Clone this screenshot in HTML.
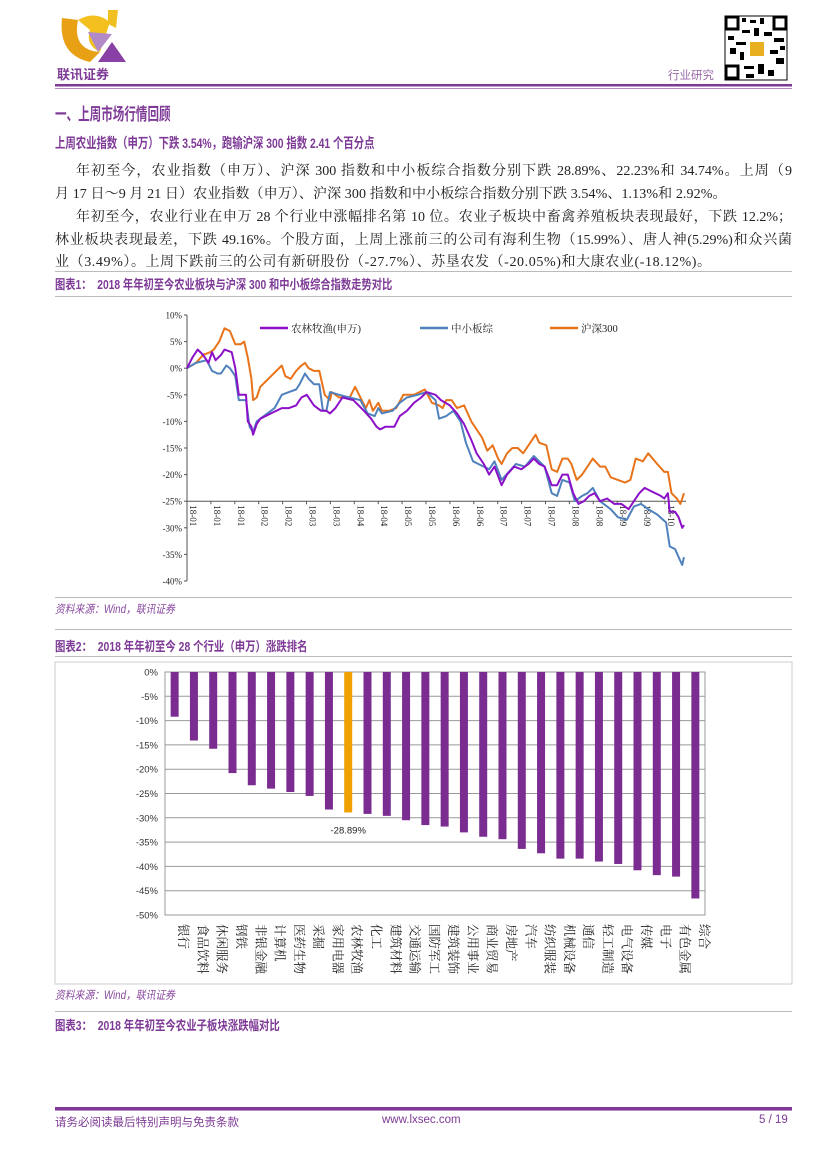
<!DOCTYPE html>
<html><head><meta charset="utf-8"><style>
body{margin:0;background:#fff;}
#page{position:relative;width:827px;height:1170px;overflow:hidden;font-family:"Liberation Serif","Noto Serif CJK SC",serif;color:#222;}
.abs{position:absolute;white-space:nowrap;}
.p{font-size:14px;left:55px;}
.j{text-align:justify;text-align-last:justify;white-space:normal;}
.h{color:#7e3a96;font-family:"Liberation Sans","Noto Sans CJK SC",sans-serif;font-weight:bold;transform-origin:0 0;}
.src{color:#8a4aa0;font-style:italic;font-size:11.5px;font-family:"Liberation Sans","Noto Sans CJK SC",sans-serif;left:55px;transform:scaleX(0.85);transform-origin:0 0;}
.rule{position:absolute;left:55px;width:737px;height:1px;background:#bbb;}
</style></head><body>
<div id="page">
<svg class="abs" style="left:0;top:0" width="827" height="100">
 <g>
  <path d="M62 18 Q58 55 90 62 L100 52 Q72 50 78 20 Z" fill="#e8a015"/>
  <path d="M78 20 Q95 10 110 22 L100 52 Q85 45 90 30 Z" fill="#f3c020"/>
  <path d="M88 32 L112 34 L98 52 Z" fill="#b28ac8"/>
  <path d="M108 10 L118 10 L116 28 L108 24 Z" fill="#f0c020"/>
  <path d="M112 42 L126 62 L98 62 Z" fill="#8a3fa6"/>
  <text x="57" y="79" font-size="13" font-weight="bold" fill="#7e3a96" font-family="Liberation Sans,Noto Sans CJK SC,sans-serif">联讯证券</text>
 </g>
 <g>
  <rect x="725" y="16" width="62" height="64" fill="#fff" stroke="#000" stroke-width="1"/>
  <rect x="726" y="17" width="12" height="12" fill="none" stroke="#000" stroke-width="3"/>
  <rect x="774" y="17" width="12" height="12" fill="none" stroke="#000" stroke-width="3"/>
  <rect x="726" y="66" width="12" height="12" fill="none" stroke="#000" stroke-width="3"/>
  <path d="M742 18h4v4h-4zM750 20h6v3h-6zM760 18h4v6h-4zM742 30h8v3h-8zM754 28h5v8h-5zM764 32h8v4h-8zM728 36h6v4h-6zM736 42h10v3h-10zM774 38h10v4h-10zM740 52h4v8h-4zM770 50h8v4h-8zM776 58h8v6h-8zM744 66h10v3h-10zM758 64h6v10h-6zM768 70h6v6h-6zM730 48h6v6h-6zM780 46h5v4h-5zM746 74h8v4h-8z" fill="#000"/>
  <rect x="750" y="42" width="14" height="14" fill="#e8b020"/>
 </g>
 <text x="668" y="79" font-size="11.5" fill="#9a6aa8" font-family="Liberation Sans,Noto Sans CJK SC,sans-serif">行业研究</text>
 <rect x="55" y="84" width="737" height="2.5" fill="#7e3a96"/>
 <rect x="55" y="88" width="737" height="1" fill="#b48cc4"/>
</svg>

<div class="abs h" style="left:55px;top:100px;font-size:17px;transform:scaleX(0.68)">一、上周市场行情回顾</div>
<div class="abs h" style="left:55px;top:133px;font-size:14px;transform:scaleX(0.74)">上周农业指数（申万）下跌 3.54%，跑输沪深 300 指数 2.41 个百分点</div>
<div class="abs p j" style="top:160px;left:76px;width:716px">年初至今，农业指数（申万）、沪深 300 指数和中小板综合指数分别下跌 28.89%、22.23%和 34.74%。上周（9</div>
<div class="abs p" style="top:183px;letter-spacing:0.1px">月 17 日～9 月 21 日）农业指数（申万）、沪深 300 指数和中小板综合指数分别下跌 3.54%、1.13%和 2.92%。</div>
<div class="abs p j" style="top:206px;left:76px;width:716px">年初至今，农业行业在申万 28 个行业中涨幅排名第 10 位。农业子板块中畜禽养殖板块表现最好，下跌 12.2%；</div>
<div class="abs p j" style="top:229px;width:737px">林业板块表现最差，下跌 49.16%。个股方面，上周上涨前三的公司有海利生物（15.99%）、唐人神(5.29%)和众兴菌</div>
<div class="abs p" style="top:251px;letter-spacing:0.6px">业（3.49%）。上周下跌前三的公司有新研股份（-27.7%）、苏垦农发（-20.05%)和大康农业(-18.12%)。</div>

<div class="rule" style="top:271px"></div>
<div class="abs h" style="left:55px;top:274px;font-size:13px;transform:scaleX(0.79)">图表1：&nbsp; 2018 年年初至今农业板块与沪深 300 和中小板综合指数走势对比</div>
<div class="rule" style="top:296px"></div>
<svg class="abs" style="left:0;top:0" width="827" height="600" id="line-chart"></svg>
<div class="rule" style="top:597px"></div>
<div class="abs src" style="top:601px">资料来源：Wind，联讯证券</div>
<div class="rule" style="top:629px"></div>
<div class="abs h" style="left:55px;top:636px;font-size:13px;transform:scaleX(0.8)">图表2：&nbsp; 2018 年年初至今 28 个行业（申万）涨跌排名</div>
<div class="rule" style="top:656px"></div>
<svg class="abs" style="left:0;top:0" width="827" height="990" id="bar-chart"></svg>
<div class="abs src" style="top:987px">资料来源：Wind，联讯证券</div>
<div class="rule" style="top:1011px"></div>
<div class="abs h" style="left:55px;top:1015px;font-size:13px;transform:scaleX(0.8)">图表3：&nbsp; 2018 年年初至今农业子板块涨跌幅对比</div>

<div class="abs" style="left:55px;top:1107px;width:737px;height:2.5px;background:#7e3a96"></div>
<div class="abs" style="left:55px;top:1110px;width:737px;height:1px;background:#b48cc4"></div>
<div class="abs" style="left:55px;top:1114px;font-size:11.5px;color:#7e3a96;font-family:'Liberation Sans','Noto Sans CJK SC',sans-serif">请务必阅读最后特别声明与免责条款</div>
<div class="abs" style="left:382px;top:1114px;font-size:11.5px;color:#7e3a96;font-family:'Liberation Sans',sans-serif">www.lxsec.com</div>
<div class="abs" style="left:759px;top:1114px;font-size:11.5px;color:#7e3a96;font-family:'Liberation Sans',sans-serif">5 / 19</div>
</div>

<script>
const NS='http://www.w3.org/2000/svg';
function mk(parent,tag,attrs,txt){const e=document.createElementNS(NS,tag);for(const k in attrs)e.setAttribute(k,attrs[k]);if(txt!=null)e.textContent=txt;parent.appendChild(e);return e;}

// ---------- Line chart data ----------
const lineYTicks=[10,5,0,-5,-10,-15,-20,-25,-30,-35,-40];
const lineXLabels=['18-01','18-01','18-01','18-02','18-02','18-03','18-03','18-04','18-04','18-05','18-05','18-06','18-06','18-07','18-07','18-07','18-08','18-08','18-09','18-09','18-10'];
const seriesNames=['农林牧渔(申万)','中小板综','沪深300'];
const hsT=[105,130,150,170,180,195,210,225,240,255,265,275,285,290,300,310,340,370,380,395,410,425,435,445,460,475,490,505,510,530,560,575,590,605,615,625,640,650,670,690,710,740,770,790,810,820,830,845,860,880,900,915,930,945,960,975,985,1000,1015,1030,1045,1060,1080,1090,1110,1125,1140,1155,1170,1180,1195,1210,1230,1240,1260,1275,1290,1310,1330,1345,1360,1380,1395,1420,1440,1450,1460,1475,1485,1495];
const hsV=[0,1,2.5,3,3.5,5,7.5,7,4.5,4.5,5,2,-2,-6,-5.5,-3.5,-1.5,0.5,-1.5,-2,-0.5,0.5,1,0,-0.5,-0.5,-5,-6,-4.5,-5.5,-5.5,-3.5,-5.5,-7.5,-6,-8,-6.5,-8,-8,-7.5,-5,-5,-4,-6.5,-7,-7.5,-6,-6,-7.5,-7,-10,-11.5,-13,-15.5,-14.5,-17,-18,-16,-15,-15,-16,-14.5,-12.5,-14,-14.5,-19,-19.5,-17,-17,-18,-21,-20,-18,-17,-18.5,-18.5,-20.5,-21,-21.5,-21,-17,-17.5,-16,-18,-19.5,-19.5,-23.5,-24.5,-25.5,-23.5];
const agT=[105,120,135,150,165,175,185,200,210,230,240,250,270,275,285,290,300,310,340,370,390,410,425,440,460,480,495,505,520,540,570,600,620,635,645,660,685,700,720,740,760,775,800,815,840,860,880,900,915,935,950,965,985,1000,1020,1040,1060,1075,1090,1105,1125,1140,1155,1170,1185,1200,1215,1230,1245,1260,1280,1300,1320,1340,1355,1370,1385,1400,1430,1440,1450,1455,1470,1480,1490,1495];
const agV=[0,2,3.5,2.5,1,3,1.5,2.5,3.5,3,0,-5,-5,-10,-11,-12.5,-10.5,-9.5,-8.5,-7.5,-7.5,-7,-5.5,-5,-7,-8,-8,-8.5,-7.5,-5.5,-6,-8,-9.5,-11,-11.5,-11,-11,-9,-8,-6.5,-5.5,-4.5,-5,-6,-7,-8.5,-10.5,-13.5,-16,-18,-20,-18.5,-22,-20,-18.5,-19,-18,-17,-18,-18.5,-22,-22,-20,-20,-23.5,-25.5,-25,-24,-23.5,-25,-24.5,-25.5,-25.5,-26.5,-25,-23.5,-22.5,-23,-24,-24.5,-23.5,-27,-27,-28,-30,-29.5];
const smT=[105,130,160,175,190,200,215,225,240,250,270,280,290,300,320,350,370,390,410,420,435,445,460,475,485,495,505,530,560,590,610,630,640,650,680,700,720,750,775,800,810,830,850,870,885,905,920,935,950,965,985,1005,1025,1050,1075,1090,1105,1125,1140,1155,1175,1190,1210,1225,1240,1260,1290,1310,1335,1355,1375,1395,1420,1445,1455,1470,1480,1490,1495];
const smV=[0,1,1.5,-0.5,-1,-1,0.5,0,-1.5,-6,-6,-11,-12,-10,-9,-7.5,-5,-4.5,-4,-3,-1,-2,-3,-3,-8,-8,-4.5,-5,-5.5,-6,-8.5,-9,-7.5,-8.5,-8,-6.5,-5.5,-5,-4.5,-6,-9.5,-9,-8,-10,-14,-17.5,-18,-18.5,-19,-17.5,-21,-19.5,-18,-18.5,-16.5,-17.5,-18.5,-23.5,-24,-21,-21.5,-25,-24,-23.5,-22.5,-25,-26.5,-28,-28.5,-26,-25.5,-26.5,-27.5,-29,-33.5,-34,-35.5,-37,-35.5];

const LX0=187,LX1=684,T0=105,T1=1495;
function lx(t){return LX0+(t-T0)/(T1-T0)*(LX1-LX0);}
function ly(v){return 368.2-v*5.32;}
(function(){
 const svg=document.getElementById('line-chart');
 const ff='Liberation Serif,Noto Serif CJK SC,serif';
 const ya=mk(svg,'line',{x1:LX0,y1:ly(10),x2:LX0,y2:ly(-40),stroke:'#555','stroke-width':1});
 
 
 lineYTicks.forEach(v=>{
  mk(svg,'line',{x1:LX0-3,y1:ly(v),x2:LX0,y2:ly(v),stroke:'#555'});
  const t=mk(svg,'text',{x:LX0-5,y:ly(v)+3.5,'font-size':9,'text-anchor':'end',fill:'#222','font-family':ff},v+'%');
  
  
 });
 const xa=mk(svg,'line',{x1:LX0,y1:ly(-25),x2:LX1+2,y2:ly(-25),stroke:'#555','stroke-width':1});
 
 
 const step=(665-LX0)/(lineXLabels.length-1);
 lineXLabels.forEach((lab,i)=>{
  const x=LX0+i*step;
  mk(svg,'line',{x1:x,y1:ly(-25),x2:x,y2:ly(-25)+3,stroke:'#555'});
  const t=mk(svg,'text',{x:0,y:0,'font-size':9,fill:'#222','font-family':ff,transform:`translate(${x+3},${ly(-25)+4}) rotate(90)`},lab);
  
  
 });
 const cols=['#8b10c8','#4f81bd','#e8731a'];
 const data=[[agT,agV],[smT,smV],[hsT,hsV]];
 const order=[2,1,0];
 const names=['series-agriculture','series-smallcap','series-csi300'];
 order.forEach(k=>{
  const [T,V]=data[k];
  const d=T.map((t,i)=>(i?'L':'M')+lx(t).toFixed(1)+' '+ly(V[i]).toFixed(1)).join(' ');
  const p=mk(svg,'path',{d:d,fill:'none',stroke:cols[k],'stroke-width':2,'stroke-linejoin':'round'});
  
  
 });
 const lxs=[260,420,550];
 seriesNames.forEach((n,k)=>{
  const g=mk(svg,'g',{});
  
  
  mk(g,'line',{x1:lxs[k],y1:328,x2:lxs[k]+28,y2:328,stroke:cols[k],'stroke-width':2.5});
  mk(g,'text',{x:lxs[k]+31,y:332,'font-size':10.5,fill:'#222','font-family':ff},n);
 });
})();

// ---------- Bar chart data ----------
const barCats=['银行','食品饮料','休闲服务','钢铁','非银金融','计算机','医药生物','采掘','家用电器','农林牧渔','化工','建筑材料','交通运输','国防军工','建筑装饰','公用事业','商业贸易','房地产','汽车','纺织服装','机械设备','通信','轻工制造','电气设备','传媒','电子','有色金属','综合'];
const barVals=[-9.2,-14.1,-15.8,-20.8,-23.3,-24.0,-24.7,-25.5,-28.3,-28.89,-29.2,-29.6,-30.5,-31.5,-31.8,-33.0,-33.9,-34.4,-36.4,-37.3,-38.4,-38.4,-39.0,-39.5,-40.8,-41.8,-42.1,-46.6];
const barYTicks=[0,-5,-10,-15,-20,-25,-30,-35,-40,-45,-50];
const highlight='农林牧渔';
const BX0=165,BX1=705;
function by(v){return 672-v*4.86;}
function bx(i){return BX0+(i+0.5)*(BX1-BX0)/barCats.length;}
(function(){
 const svg=document.getElementById('bar-chart');
 const ff='Liberation Sans,Noto Sans CJK SC,sans-serif';
 mk(svg,'rect',{x:BX0,y:by(0),width:BX1-BX0,height:by(-50)-by(0),fill:'none',stroke:'#999'});
 barYTicks.forEach(v=>{
  const gl=mk(svg,'line',{x1:BX0,y1:by(v),x2:BX1,y2:by(v),stroke:'#999'});
  
  
  const t=mk(svg,'text',{x:BX0-7,y:by(v)+3.5,'font-size':9.5,'text-anchor':'end',fill:'#333','font-family':ff},v+'%');
  
  
 });
 barCats.forEach((c,i)=>{
  const v=barVals[i];
  const r=mk(svg,'rect',{x:bx(i)-4,y:by(0),width:8,height:by(v)-by(0),fill:c===highlight?'#f0a000':'#7b2c91'});
  
  
  const t=mk(svg,'text',{x:0,y:0,'font-size':12.5,fill:'#222','font-family':'Liberation Serif,Noto Serif CJK SC,serif',transform:`translate(${bx(i)+4.5},924) rotate(90)`},c);
  
  
  if(c===highlight){
   const vl=mk(svg,'text',{x:bx(i),y:by(v)+21,'font-size':9.5,'text-anchor':'middle',fill:'#222','font-family':ff},v.toFixed(2)+'%');
   
   
  }
 });
 mk(svg,'rect',{x:55,y:662,width:737,height:322,fill:'none',stroke:'#ccc'});
})();
</script>
</body></html>
